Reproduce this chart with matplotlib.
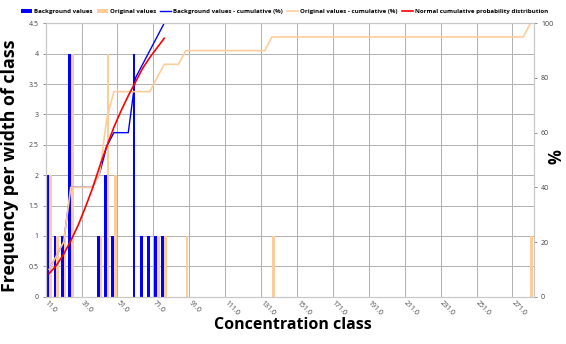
import numpy as np
import matplotlib
matplotlib.use("Agg")
import matplotlib.pyplot as plt

plt.rcParams["font.family"] = ["Open Sans", "DejaVu Sans"]

# concentration classes (lower bound of each 4-unit class)
class_lower = np.arange(11, 283, 4)
class_width = 4

background_classes = [11, 15, 19, 23, 39, 43, 47, 59, 63, 67, 71, 75]
background_counts = [2, 1, 1, 4, 1, 2, 1, 4, 1, 1, 1, 1]

original_classes = [11, 15, 19, 23, 39, 43, 47, 71, 75, 87, 135, 279]
original_counts = [2, 1, 1, 4, 1, 4, 2, 1, 1, 1, 1, 1]

# normal cumulative probability (%) fitted to background values, classes 11..75
normal_cdf_pct = [8.5, 11.5, 15.5, 20.5, 26.0, 32.5, 39.5, 47.5, 55.0, 62.0,
                  68.0, 73.5, 78.5, 83.5, 87.5, 91.0, 94.5]

xtick_values = np.arange(11, 272, 20)

BLUE = "#0000FF"
PEACH = "#FFCC99"
RED = "#FF0000"
GRID = "#B0B0B0"

bg = np.zeros(len(class_lower))
og = np.zeros(len(class_lower))
for c, n in zip(background_classes, background_counts):
    bg[list(class_lower).index(c)] = n
for c, n in zip(original_classes, original_counts):
    og[list(class_lower).index(c)] = n

centers = class_lower + class_width / 2
bg_cum = np.cumsum(bg) / bg.sum() * 100
og_cum = np.cumsum(og) / og.sum() * 100
n_bg = list(class_lower).index(max(background_classes)) + 1

fig = plt.figure(figsize=(5.66, 3.44), dpi=100)
ax = fig.add_axes([0.0807, 0.1375, 0.8628, 0.7948])
ax2 = ax.twinx()

bw = 1.5
ax.bar(centers - bw / 2, bg, width=bw, color=BLUE, label="Background values", zorder=2)
ax.bar(centers + bw / 2, og, width=bw, color=PEACH, label="Original values", zorder=2)

l1, = ax2.plot(centers[:n_bg], bg_cum[:n_bg], color=BLUE, lw=1.0,
               label="Background values - cumulative (%)")
l2, = ax2.plot(centers, og_cum, color=PEACH, lw=1.2,
               label="Original values - cumulative (%)")
l3, = ax2.plot(centers[:n_bg], normal_cdf_pct, color=RED, lw=1.2,
               label="Normal cumulative probability distribution")

ax.set_xlim(11, 283)
ax.set_ylim(0, 4.5)
ax2.set_ylim(0, 100)
ax.set_yticks(np.arange(0, 4.51, 0.5))
ax.set_yticklabels([f"{v:g}" for v in np.arange(0, 4.51, 0.5)])
ax2.set_yticks(np.arange(0, 101, 20))
ax.set_xticks(xtick_values)
ax.set_xticklabels([f"{v:.1f}" for v in xtick_values], rotation=-45,
                   ha="left", va="center", rotation_mode="anchor")

ax.set_axisbelow(True)
ax.grid(True, color=GRID, lw=0.7)
for a in (ax, ax2):
    for s in a.spines.values():
        s.set_color("#C8C8C8")
        s.set_linewidth(0.8)
ax.tick_params(axis="y", labelsize=5, colors="#808080", length=2, width=0.6,
               labelcolor="#404040", pad=3)
ax.tick_params(axis="x", labelsize=5, length=0, labelcolor="#404040", pad=4)
ax2.tick_params(axis="y", labelsize=5, colors="#808080", length=2, width=0.6,
                labelcolor="#404040", pad=3)

fig.text(0.018, 0.517, "Frequency per width of class", rotation=90, ha="center",
         va="center", fontsize=12.8, fontweight="bold")
fig.text(0.984, 0.545, "%", rotation=90, ha="center", va="center",
         fontsize=12, fontweight="bold")
fig.text(0.518, 0.055, "Concentration class", ha="center", va="center",
         fontsize=11.5, fontweight="bold")

handles, labels = ax.get_legend_handles_labels()
handles += [l1, l2, l3]
labels += [l1.get_label(), l2.get_label(), l3.get_label()]
fig.legend(handles, labels, loc="center", bbox_to_anchor=(0.503, 0.967), ncol=5,
           frameon=False, prop={"size": 4.4, "weight": "bold"},
           handlelength=1.8, handleheight=0.7, columnspacing=0.7, handletextpad=0.3)

fig.savefig("out.png", dpi=100)
